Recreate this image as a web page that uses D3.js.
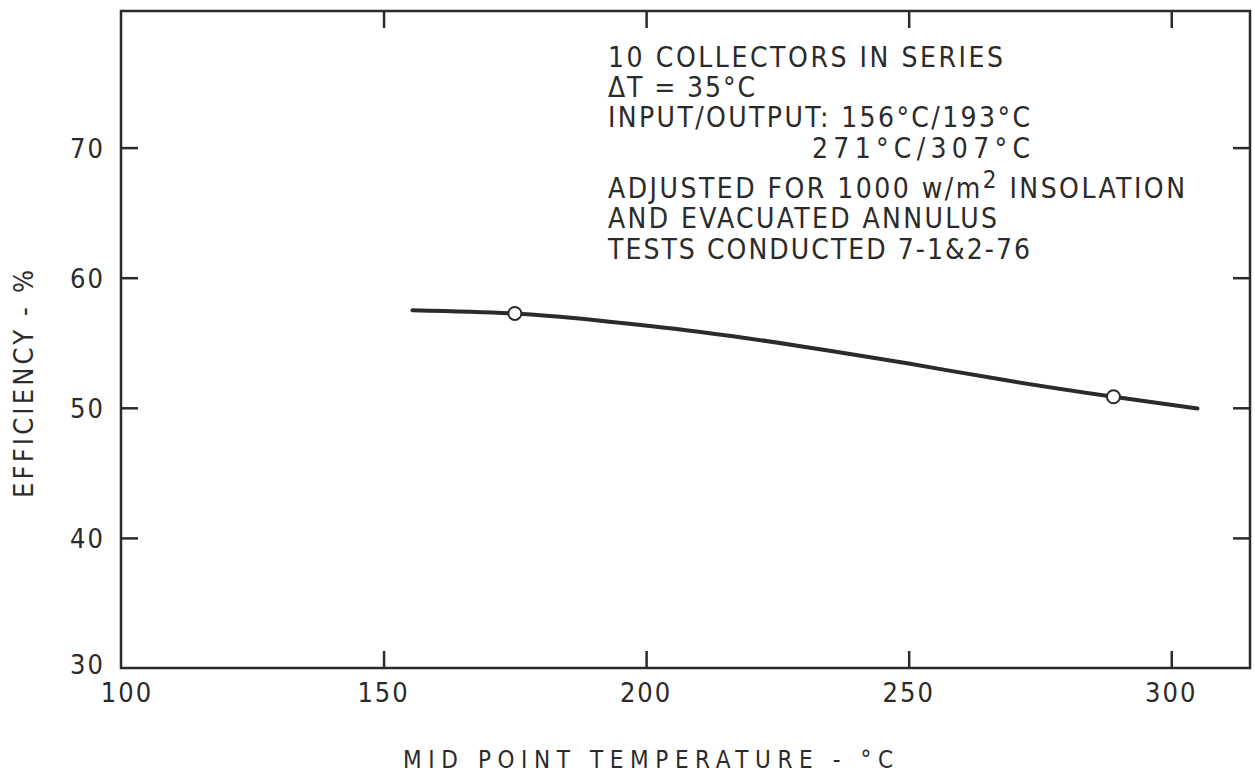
<!DOCTYPE html>
<html>
<head>
<meta charset="utf-8">
<script src="https://cdnjs.cloudflare.com/ajax/libs/d3/7.8.5/d3.min.js"></script>
<style>
  html, body { margin: 0; padding: 0; background: #fff; }
  svg text { font-family: 'DejaVu Sans Condensed', 'Liberation Sans Narrow', sans-serif; fill: #2b2b2b; }
</style>
</head>
<body>
<div id="main"></div>
<script>
// data
var curveTemps = [155.5, 175, 190, 210, 230, 250, 268, 289, 305];
var curveEff   = [57.5, 57.25, 56.75, 55.85, 54.7, 53.4, 52.15, 50.85, 49.95];
var pointTemps = [175, 289];
var pointEff   = [57.25, 50.85];
var xTicks = [100, 150, 200, 250, 300];
var yTicks = [30, 40, 50, 60, 70];
var notes = [
  "10 COLLECTORS IN SERIES",
  "\u0394T = 35\u00B0C",
  "INPUT/OUTPUT: 156\u00B0C/193\u00B0C",
  "271\u00B0C/307\u00B0C",
  "ADJUSTED FOR 1000 w/m|2| INSOLATION",
  "AND EVACUATED ANNULUS",
  "TESTS CONDUCTED 7-1&2-76"
];

function transform(x, y) {
  return "translate(" + x + "," + y + ")";
}

var W = 1255, H = 773;
var box = { left: 121, right: 1250, top: 11, bottom: 668 };

var x = d3.scaleLinear().domain([100, 315]).range([box.left, box.right]);
var y = d3.scaleLinear().domain([30, 80.5]).range([box.bottom, box.top]);

var svg = d3.select('#main').append('svg')
  .attr('width', W).attr('height', H);

var ink = '#2b2b2b';

// frame
svg.append('rect')
  .attr('x', box.left).attr('y', box.top)
  .attr('width', box.right - box.left).attr('height', box.bottom - box.top)
  .attr('fill', 'none').attr('stroke', ink).attr('stroke-width', 2.5);

// ticks point inward on all four sides, labels only bottom & left
// (don't call these top/left etc, `top` is window.top)
var tickLen = 17;
var axB = d3.axisBottom(x).tickValues(xTicks.slice(1)).tickSize(-tickLen).tickFormat('');
var axT = d3.axisTop(x).tickValues(xTicks.slice(1)).tickSize(-tickLen).tickFormat('');
var axL = d3.axisLeft(y).tickValues(yTicks.slice(1)).tickSize(-tickLen).tickFormat('');
var axR = d3.axisRight(y).tickValues(yTicks.slice(1)).tickSize(-tickLen).tickFormat('');

[[axB, transform(0, box.bottom)], [axT, transform(0, box.top)],
 [axL, transform(box.left, 0)], [axR, transform(box.right, 0)]].forEach(function(a) {
  var g = svg.append('g').attr('transform', a[1]).call(a[0]);
  g.select('.domain').remove();
  g.selectAll('line').attr('stroke', ink).attr('stroke-width', 2.5);
});

svg.selectAll('.xlab').data(xTicks).enter().append('text')
  .attr('class', 'xlab')
  .attr('x', function(d, i) { return x(d) + (i === 0 ? 6 : 0); })
  .attr('y', 702)
  .attr('text-anchor', 'middle')
  .attr('font-size', 27)
  .attr('letter-spacing', 2)
  .text(function(d) { return d; });

svg.selectAll('.ylab').data(yTicks).enter().append('text')
  .attr('class', 'ylab')
  .attr('x', 105)
  .attr('y', function(d, i) { return y(d) + (i === 0 ? 6 : 10); })
  .attr('text-anchor', 'end')
  .attr('font-size', 27)
  .attr('letter-spacing', 2)
  .text(function(d) { return d; });

// axis titles, widths
svg.append('text')
  .attr('x', 403).attr('y', 768)
  .attr('font-size', 24)
  .attr('textLength', 490)
  .attr('lengthAdjust', 'spacing')
  .text("MID POINT TEMPERATURE - \u00B0C");

svg.append('text')
  .attr('transform', transform(33, 498) + ' rotate(-90)')
  .attr('font-size', 27)
  .attr('textLength', 228)
  .attr('lengthAdjust', 'spacing')
  .text("EFFICIENCY - %");

// curve
var line = d3.line()
  .x(function(d) { return x(d[0]); })
  .y(function(d) { return y(d[1]); })
  .curve(d3.curveNatural);

svg.append('path')
  .datum(d3.zip(curveTemps, curveEff))
  .attr('d', line)
  .attr('fill', 'none')
  .attr('stroke', ink)
  .attr('stroke-width', 4)
  .attr('stroke-linecap', 'round');

svg.selectAll('.pt').data(d3.zip(pointTemps, pointEff)).enter().append('circle')
  .attr('class', 'pt')
  .attr('cx', function(d) { return x(d[0]); })
  .attr('cy', function(d) { return y(d[1]); })
  .attr('r', 6.5)
  .attr('fill', '#fff')
  .attr('stroke', ink)
  .attr('stroke-width', 2);

// annotation block, widths
var noteX = [608, 608, 608, 812, 608, 608, 608];
var noteY = [67, 97, 127, 158, 198, 228, 259];
var noteW = [395, 147, 422, 218, 577, 389, 422];

notes.forEach(function(s, i) {
  var t = svg.append('text')
    .attr('x', noteX[i]).attr('y', noteY[i])
    .attr('font-size', 28)
    .attr('textLength', noteW[i])
    .attr('lengthAdjust', 'spacing');
  var parts = s.split('|');
  if (parts.length === 1) { t.text(s); return; }
  t.append('tspan').text(parts[0]);
  t.append('tspan').attr('dy', -10).attr('font-size', 24).text(parts[1]);
  t.append('tspan').attr('dy', 10).text(parts[2]);
});
</script>
</body>
</html>
